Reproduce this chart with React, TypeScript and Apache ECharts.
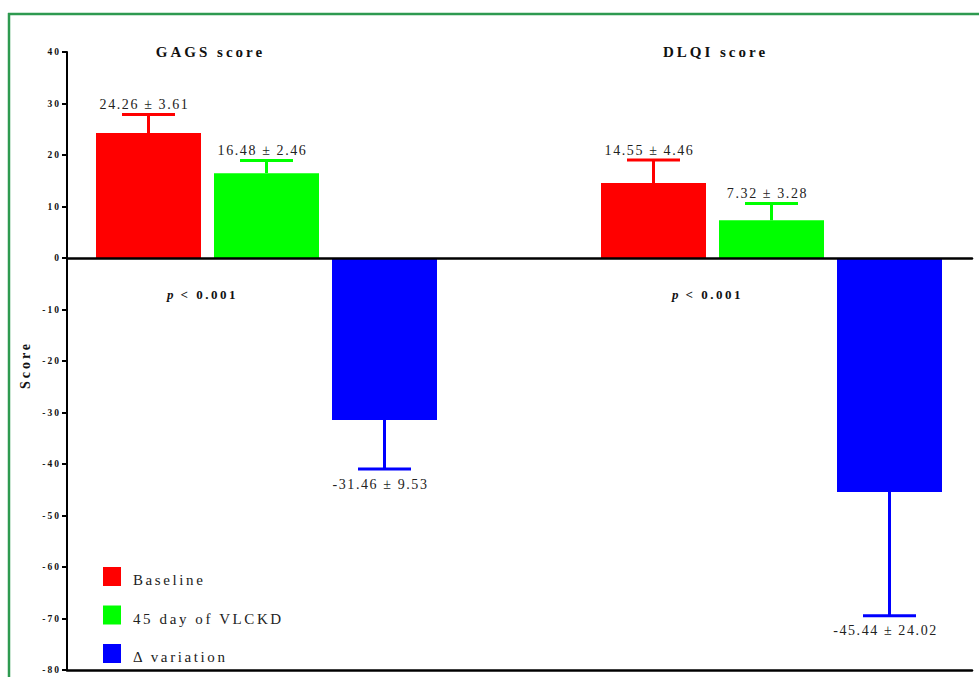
import { useEffect, useRef } from 'react';
import * as echarts from 'echarts';

// Score groups and the three measurements shown for each
const groups = ['GAGS score', 'DLQI score'];
const seriesNames = ['Baseline', '45 day of VLCKD', 'Δ variation'];
const seriesColors = ['#ff0000', '#00ff00', '#0000ff'];

// mean ± SD per group
const baselineMean = [24.26, 14.55];
const baselineSd = [3.61, 4.46];
const day45Mean = [16.48, 7.32];
const day45Sd = [2.46, 3.28];
const deltaMean = [-31.46, -45.44];
const deltaSd = [9.53, 24.02];

const pLabels = ['< 0.001', '< 0.001'];

// value axis
const yMin = -80;
const yMax = 40;
const yStep = 10;

const means = [baselineMean, day45Mean, deltaMean];
const sds = [baselineSd, day45Sd, deltaSd];

const SERIF = '"Liberation Serif", "Times New Roman", serif';

// layout (px)
const W = 979;
const H = 677;
const plotLeft = 67;
const plotRight = 972;
const plotTop = 52;
const plotBottom = 670;
const barWidth = 105;
const barGapPx = 13;
const pitch = barWidth + barGapPx;
const capHalf = 26.5;
// the bar grid spans from the first group's centre to the second's
const barGridLeft = 266.5;
const barGridWidth = 505;

function spacingFor(s: string): number {
  if (groups.includes(s)) return 3;
  if (s === 'Score') return 3;
  if (seriesNames.includes(s)) return 2.6;
  if (s.includes('±')) return 1.6;
  if (/^-?\d+$/.test(s.trim())) return 2;
  if (s === 'p') return 0;
  return 2.5;
}

export default function App() {
  const ref = useRef<HTMLDivElement>(null);

  useEffect(() => {
    const el = ref.current;
    if (!el) return;
    const chart = echarts.init(el, undefined, { renderer: 'svg', width: W, height: H });

    const barSeries = seriesNames.map((name, i) => ({
      name,
      type: 'bar',
      xAxisIndex: 2,
      yAxisIndex: 1,
      data: means[i],
      barWidth,
      barGap: `${(barGapPx / barWidth) * 100}%`,
      itemStyle: { color: seriesColors[i] },
      clip: false,
      z: 2,
      silent: true,
    }));

    const errorSeries = seriesNames.map((_, i) => ({
      type: 'custom',
      xAxisIndex: 2,
      yAxisIndex: 1,
      silent: true,
      clip: false,
      z: 3,
      data: groups.map((_g, c) => [c, means[i][c], sds[i][c]]),
      renderItem: (_params: any, api: any) => {
        const c = api.value(0);
        const m = api.value(1);
        const s = api.value(2);
        const dir = m >= 0 ? 1 : -1;
        const base = api.coord([c, m]);
        const x = base[0] + (i - 1) * pitch;
        const y0 = base[1];
        const y1 = api.coord([c, m + dir * s])[1];
        const color = seriesColors[i];
        return {
          type: 'group',
          children: [
            { type: 'line', shape: { x1: x, y1: y0, x2: x, y2: y1 }, style: { stroke: color, lineWidth: 3 } },
            { type: 'line', shape: { x1: x - capHalf, y1: y1, x2: x + capHalf, y2: y1 }, style: { stroke: color, lineWidth: 3 } },
            {
              type: 'text',
              x: x - 4,
              y: dir > 0 ? y1 - 3 : y1 + 8,
              style: {
                text: `${m.toFixed(2)} ± ${s.toFixed(2)}`,
                fill: '#222',
                font: `14px ${SERIF}`,
                align: 'center',
                verticalAlign: dir > 0 ? 'bottom' : 'top',
              },
            },
          ],
        };
      },
    }));

    // group titles above and p-values below the zero line
    const annotationSeries = {
      type: 'custom',
      xAxisIndex: 2,
      yAxisIndex: 1,
      silent: true,
      clip: false,
      z: 4,
      data: groups.map((_g, c) => [c]),
      renderItem: (_params: any, api: any) => {
        const c = api.value(0);
        const zero = api.coord([c, 0]);
        const x = zero[0] - pitch / 2;
        const top = api.coord([c, yMax])[1];
        const py = zero[1] + 36;
        return {
          type: 'group',
          children: [
            {
              type: 'text',
              x: x + 3,
              y: top,
              style: {
                text: groups[c],
                fill: '#111',
                font: `bold 15px ${SERIF}`,
                align: 'center',
                verticalAlign: 'middle',
              },
            },
            {
              type: 'text',
              x: x - 34,
              y: py,
              style: {
                text: 'p',
                fill: '#111',
                font: `italic bold 13px ${SERIF}`,
                align: 'right',
                verticalAlign: 'middle',
              },
            },
            {
              type: 'text',
              x: x - 27,
              y: py,
              style: {
                text: pLabels[c],
                fill: '#111',
                font: `bold 13px ${SERIF}`,
                align: 'left',
                verticalAlign: 'middle',
              },
            },
          ],
        };
      },
    };

    const option: any = {
      animation: false,
      backgroundColor: '#ffffff',
      grid: [
        { left: plotLeft, top: plotTop, width: plotRight - plotLeft, height: plotBottom - plotTop },
        { left: barGridLeft, top: plotTop, width: barGridWidth, height: plotBottom - plotTop },
      ],
      xAxis: [
        {
          gridIndex: 0,
          type: 'category',
          data: groups,
          position: 'top',
          axisLine: { onZero: true, lineStyle: { color: '#000', width: 2.5 } },
          axisTick: { show: false },
          axisLabel: { show: false },
          z: 10,
        },
        {
          gridIndex: 0,
          type: 'category',
          data: groups,
          position: 'bottom',
          axisLine: { onZero: false, lineStyle: { color: '#000', width: 2.5 } },
          axisTick: { show: false },
          axisLabel: { show: false },
          z: 10,
        },
        {
          gridIndex: 1,
          type: 'category',
          data: groups,
          boundaryGap: false,
          show: false,
        },
      ],
      yAxis: [
        {
          gridIndex: 0,
          type: 'value',
          min: yMin,
          max: yMax,
          interval: yStep,
          axisLine: { show: true, lineStyle: { color: '#000', width: 2 } },
          axisTick: { show: true, length: 5, lineStyle: { color: '#000', width: 2 } },
          axisLabel: {
            margin: 6,
            color: '#111',
            fontFamily: SERIF,
            fontWeight: 'bold',
            fontSize: 9.5,
          },
          splitLine: { show: false },
          z: 10,
        },
        {
          gridIndex: 1,
          type: 'value',
          min: yMin,
          max: yMax,
          interval: yStep,
          show: false,
        },
      ],
      legend: {
        data: seriesNames,
        orient: 'vertical',
        left: 103,
        top: 567,
        padding: 0,
        itemWidth: 18,
        itemHeight: 19,
        itemGap: 18,
        icon: 'rect',
        selectedMode: false,
        formatter: '{n|{name}}',
        textStyle: {
          fontFamily: SERIF,
          fontSize: 15,
          color: '#222',
          rich: {
            n: {
              fontFamily: SERIF,
              fontSize: 15,
              color: '#222',
              padding: [7, 0, 0, 7],
            },
          },
        },
      },
      graphic: [
        // frame
        { type: 'line', shape: { x1: 8, y1: 14, x2: W, y2: 14 }, style: { stroke: '#2e9a50', lineWidth: 2.5 }, silent: true },
        { type: 'line', shape: { x1: 9, y1: 13, x2: 9, y2: H }, style: { stroke: '#2e9a50', lineWidth: 2.5 }, silent: true },
        {
          type: 'text',
          x: 25,
          y: (plotTop + plotBottom) / 2 + 4,
          rotation: Math.PI / 2,
          silent: true,
          style: {
            text: 'Score',
            fill: '#111',
            font: `bold 14px ${SERIF}`,
            align: 'center',
            verticalAlign: 'middle',
          },
        },
      ],
      series: [...barSeries, ...errorSeries, annotationSeries],
    };

    const applySpacing = () => {
      el.querySelectorAll('text').forEach((t) => {
        const s = t.textContent || '';
        t.setAttribute('letter-spacing', `${spacingFor(s)}px`);
      });
    };

    chart.setOption(option);
    applySpacing();
    chart.on('finished', applySpacing);
    const timer = window.setTimeout(applySpacing, 50);

    return () => {
      window.clearTimeout(timer);
      chart.dispose();
    };
  }, []);

  return (
    <div
      ref={ref}
      style={{ position: 'absolute', left: 0, top: 0, width: W, height: H, background: '#fff' }}
    />
  );
}
